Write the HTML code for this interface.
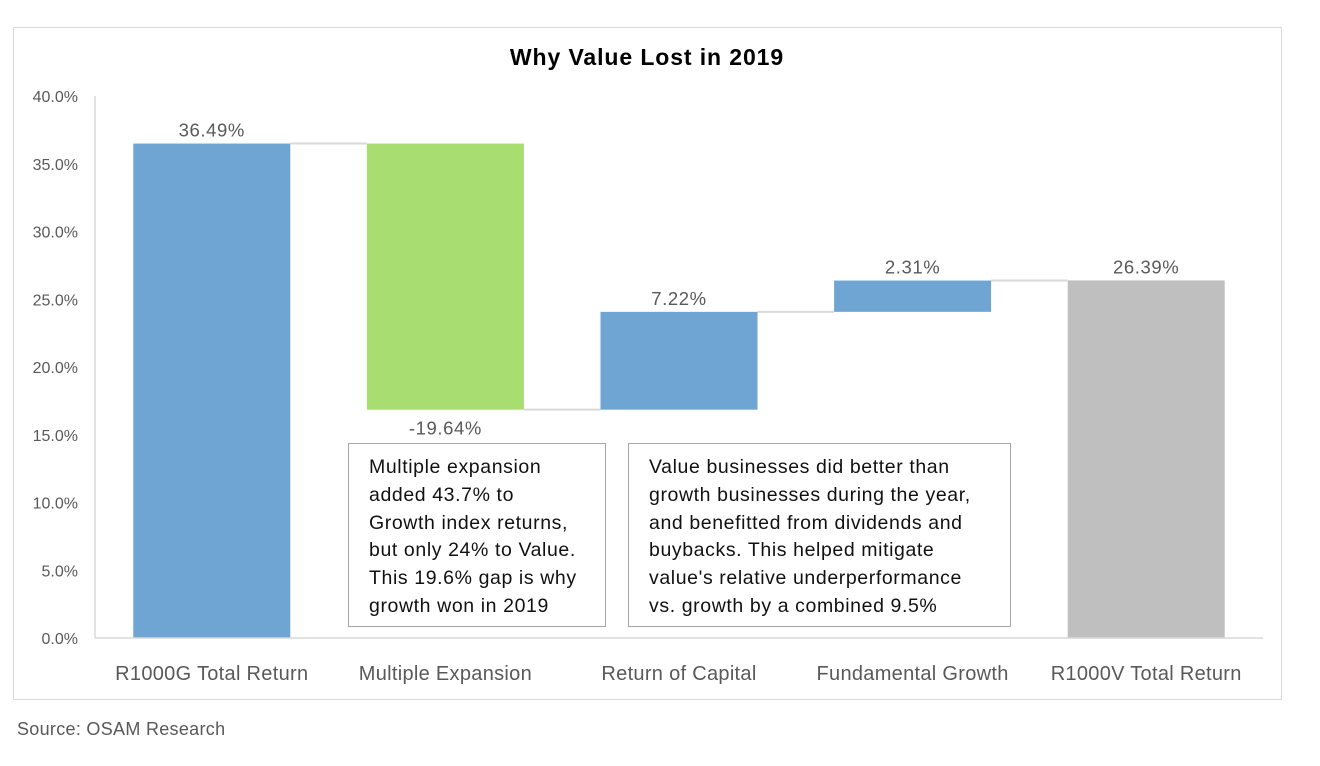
<!DOCTYPE html>
<html><head><meta charset="utf-8">
<style>
body{margin:0;background:#fff;width:1320px;height:766px;overflow:hidden;font-family:"Liberation Sans",sans-serif}
svg{position:absolute;left:0;top:0}
.box{position:absolute;border:1.5px solid #a6a6a6;background:#fff;font-size:19.5px;letter-spacing:0.6px;line-height:27.8px;color:#111;padding:10px 0 0 20px;box-sizing:border-box;overflow:hidden;white-space:nowrap}
</style></head><body>
<svg width="1320" height="766" id="chart">
<rect x="13.5" y="27.5" width="1268" height="672" fill="#fff" stroke="#d9d9d9"/>
<text x="647" y="65" text-anchor="middle" font-size="23" letter-spacing="0.9" font-weight="bold" fill="#000">Why Value Lost in 2019</text>
<g id="g"></g>
<text x="17" y="735" font-size="18" letter-spacing="0.3" fill="#595959">Source: OSAM Research</text>
</svg>
<div class="box" style="left:348px;top:443px;width:258px;height:184px">Multiple expansion<br>added 43.7% to<br>Growth index returns,<br>but only 24% to Value.<br>This 19.6% gap is why<br>growth won in 2019</div>
<div class="box" style="left:628px;top:443px;width:383px;height:184px">Value businesses did better than<br>growth businesses during the year,<br>and benefitted from dividends and<br>buybacks. This helped mitigate<br>value's relative underperformance<br>vs. growth by a combined 9.5%</div>
<script>
const categories=["R1000G Total Return","Multiple Expansion","Return of Capital","Fundamental Growth","R1000V Total Return"];
const deltas=[36.49,-19.64,7.22,2.31,26.39];
const kinds=["total","delta","delta","delta","total"];
const labels=["36.49%","-19.64%","7.22%","2.31%","26.39%"];
const ticks=[0,5,10,15,20,25,30,35,40];
const NS="http://www.w3.org/2000/svg";
const g=document.getElementById('g');
const x0=95,x1=1263,yb=638,yt=96;
const y=v=>yb-(v/40)*(yb-yt);
const bw=(x1-x0)/categories.length;
const cx=i=>x0+bw*(i+0.5);
const barW=157;
function mk(t,a){const e=document.createElementNS(NS,t);for(const k in a)e.setAttribute(k,a[k]);g.appendChild(e);return e;}
ticks.forEach(t=>{const e=mk('text',{x:78,y:y(t)+6,'text-anchor':'end','font-size':16,fill:'#595959'});e.textContent=t.toFixed(1)+'%';

});
const ax=mk('line',{x1:x0,y1:yt,x2:x0,y2:yb,stroke:'#d9d9d9','stroke-width':1.5});


let run=0;const tops=[];
deltas.forEach((d,i)=>{
 let a,b,col;
 if(kinds[i]==='total'){a=0;b=d;run=d;col=i===0?'#6fa5d2':'#bfbfbf';}
 else{a=run;b=run+d;run=b;col=d<0?'#a8dd72':'#6fa5d2';}
 tops.push(run);
 const lo=Math.min(a,b),hi=Math.max(a,b);
 const r=mk('rect',{x:cx(i)-barW/2,y:y(hi),width:barW,height:y(lo)-y(hi),fill:col});
 
 
 const ly=d<0?y(lo)+25:y(hi)-7;
 const tx=mk('text',{x:cx(i),y:ly,'text-anchor':'middle','font-size':18.5,'letter-spacing':0.6,fill:'#595959'});tx.textContent=labels[i];
 
 
 const c=mk('text',{x:cx(i),y:680,'text-anchor':'middle','font-size':20,'letter-spacing':0.3,fill:'#595959'});c.textContent=categories[i];
 
 
});
for(let i=0;i<deltas.length-1;i++){
 const l=mk('line',{x1:cx(i)+barW/2,x2:cx(i+1)-barW/2,y1:y(tops[i]),y2:y(tops[i]),stroke:'#d9d9d9','stroke-width':2});
 
 
}
const xa=mk('line',{x1:x0,y1:yb,x2:x1,y2:yb,stroke:'#d9d9d9','stroke-width':1.5});


</script>
</body></html>
